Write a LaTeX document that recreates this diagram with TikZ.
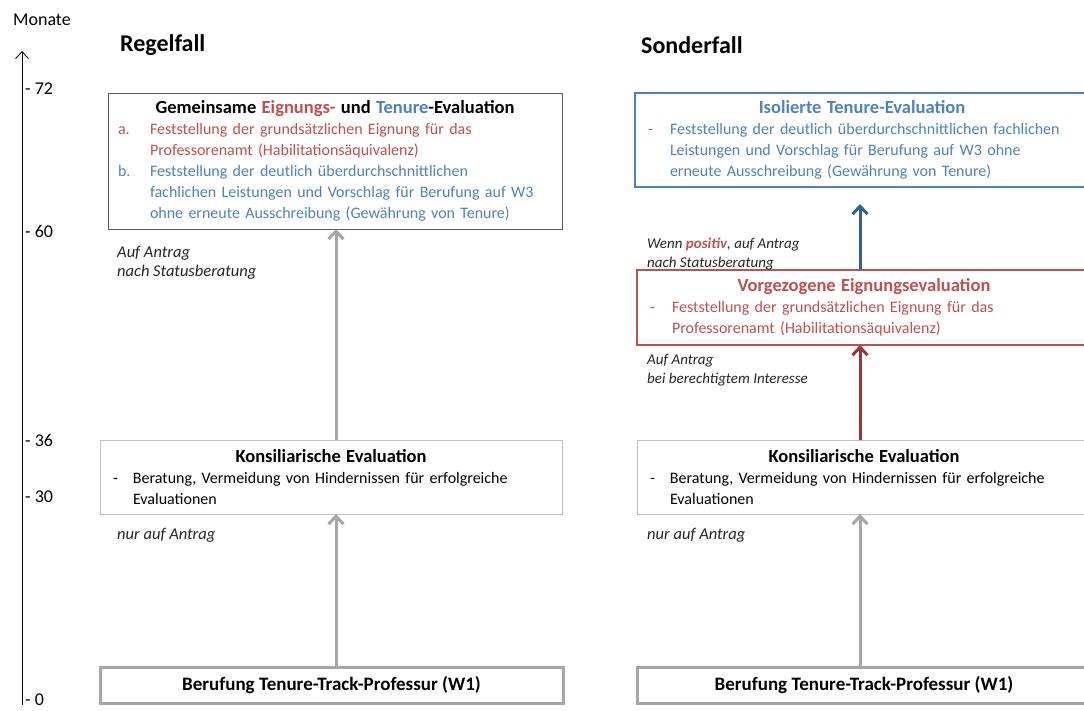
\documentclass[tikz,border=0pt]{standalone}
\usepackage{fontspec}
\setmainfont{Carlito}
\usepackage{xcolor}
\definecolor{evalred}{HTML}{C0504D}
\definecolor{evalblue}{HTML}{4F81BD}
\definecolor{arrowred}{HTML}{953735}
\definecolor{arrowblue}{HTML}{376092}
\definecolor{arrowgray}{HTML}{A6A6A6}
\definecolor{boxgray}{HTML}{BFBFBF}
\definecolor{framegray}{HTML}{595959}
\usepackage{tikz}
\usetikzlibrary{arrows.meta, positioning}

\newcommand{\boxtitle}[1]{{\centering\fontsize{18.5}{21}\selectfont\bfseries #1\par}}
\newcommand{\evitem}[3]{\par\noindent\hangindent=#1\hangafter=1\makebox[#1][l]{#2}{#3}\par}

\tikzset{
  evalbox/.style={draw, rectangle, anchor=north west, outer sep=0pt, inner ysep=0pt,
    align=left, font=\fontsize{16}{21}\selectfont},
  basebox/.style={draw=arrowgray, line width=3pt, rectangle, anchor=north west, outer sep=0pt,
    minimum height=36pt, font=\fontsize{19}{22}\selectfont\bfseries},
  note/.style={anchor=west, inner sep=0pt, font=\fontsize{16.5}{19}\selectfont\itshape, text=black!85},
  smallnote/.style={note, font=\fontsize{15}{18}\selectfont\itshape},
  tick/.style={anchor=west, inner sep=0pt, font=\fontsize{18}{20}\selectfont},
  casehead/.style={anchor=west, inner sep=0pt, font=\fontsize{24}{26}\selectfont\bfseries},
  flow/.style={line width=3pt, -{Straight Barb[length=8pt,width=15pt,line width=3pt]}},
}

\begin{document}
\begin{tikzpicture}[x=1pt, y=-1pt]
  \useasboundingbox (0,0) rectangle (1084,710);
  % time axis
  \node[anchor=center, inner sep=0pt, font=\fontsize{18}{20}\selectfont] (monate) at (42,20) {Monate};
  \coordinate (axbot) at (22,705);
  \coordinate (axtop) at (22,51);
  \draw[line width=0.9pt, -{Straight Barb[length=7pt,width=13pt,line width=0.9pt]}] (axbot) -- (axtop);
  \node[tick] (t72) at (25,89) {- 72};
  \node[tick] (t60) at (25,231) {- 60};
  \node[tick] (t36) at (25,440) {- 36};
  \node[tick] (t30) at (25,497) {- 30};
  \node[tick] (t0) at (25,700) {- 0};

  % Regelfall
  \node[casehead] (regel) at (120,45) {Regelfall};
  \coordinate (colL) at (336,0);
  \node[evalbox, draw=framegray, line width=0.8pt, text width=434pt, minimum height=136pt, inner xsep=10pt]
    (gemeinsam) at (108,93) {%
    \boxtitle{Gemeinsame \textcolor{evalred}{Eignungs-} und \textcolor{evalblue}{Tenure}-Evaluation}%
    \evitem{32pt}{\color{evalred}a.}{\color{evalred}Feststellung der grundsätzlichen Eignung für das\newline
      Professorenamt (Habilitationsäquivalenz)}%
    \evitem{32pt}{\color{evalblue}b.}{\color{evalblue}Feststellung der deutlich überdurchschnittlichen\newline
      fachlichen Leistungen und Vorschlag für Berufung auf W3\newline
      ohne erneute Ausschreibung (Gewährung von Tenure)}};
  \node[evalbox, draw=boxgray, line width=0.8pt, text width=436pt, minimum height=74pt, inner xsep=13pt]
    (konsL) at (100,440) {%
    \boxtitle{Konsiliarische Evaluation}%
    \evitem{20pt}{-}{Beratung, Vermeidung von Hindernissen für erfolgreiche\newline Evaluationen}};
  \node[basebox, minimum width=463pt] (berufL) at (100,667) {Berufung Tenure-Track-Professur (W1)};
  \node[note] (antragL) at (117,253) {Auf Antrag};
  \node[note] (statusL) at (117,272) {nach Statusberatung};
  \node[note] (nurL) at (117,535) {nur auf Antrag};
  \draw[flow, arrowgray] (berufL.north -| colL) -- (konsL.south -| colL);
  \draw[flow, arrowgray] (konsL.north -| colL) -- (gemeinsam.south -| colL);

  % Sonderfall
  \node[casehead] (sonder) at (641,45) {Sonderfall};
  \coordinate (colR) at (860,0);
  \node[evalbox, draw=evalblue, line width=1.2pt, text width=428pt, minimum height=94pt, inner xsep=13pt]
    (isoliert) at (635,93) {%
    \boxtitle{\color{evalblue}Isolierte Tenure-Evaluation}%
    \evitem{22pt}{\color{evalblue}-}{\color{evalblue}Feststellung der deutlich überdurchschnittlichen fachlichen\newline
      Leistungen und Vorschlag für Berufung auf W3 ohne\newline
      erneute Ausschreibung (Gewährung von Tenure)}};
  \node[evalbox, draw=evalred, line width=1.2pt, text width=428pt, minimum height=75pt, inner xsep=13pt]
    (vorgez) at (637,270) {%
    \boxtitle{\color{evalred}Vorgezogene Eignungsevaluation}%
    \evitem{22pt}{\color{evalred}-}{\color{evalred}Feststellung der grundsätzlichen Eignung für das\newline
      Professorenamt (Habilitationsäquivalenz)}};
  \node[evalbox, draw=boxgray, line width=0.8pt, text width=428pt, minimum height=74pt, inner xsep=13pt]
    (konsR) at (637,440) {%
    \boxtitle{Konsiliarische Evaluation}%
    \evitem{20pt}{-}{Beratung, Vermeidung von Hindernissen für erfolgreiche\newline Evaluationen}};
  \node[basebox, minimum width=454pt] (berufR) at (637,667) {Berufung Tenure-Track-Professur (W1)};
  \node[smallnote] (wennR) at (647,245) {Wenn \textcolor{evalred}{\bfseries positiv}, auf Antrag};
  \node[smallnote] (statusR) at (647,264) {nach Statusberatung};
  \node[smallnote] (antragR) at (647,361) {Auf Antrag};
  \node[smallnote] (interesseR) at (647,380) {bei berechtigtem Interesse};
  \node[note] (nurR) at (647,535) {nur auf Antrag};
  \draw[flow, arrowgray] (berufR.north -| colR) -- (konsR.south -| colR);
  \draw[flow, arrowred] (konsR.north -| colR) -- (vorgez.south -| colR);
  \draw[flow, arrowblue] (vorgez.north -| colR) -- ([yshift=-17pt]isoliert.south -| colR);
\end{tikzpicture}
\end{document}
